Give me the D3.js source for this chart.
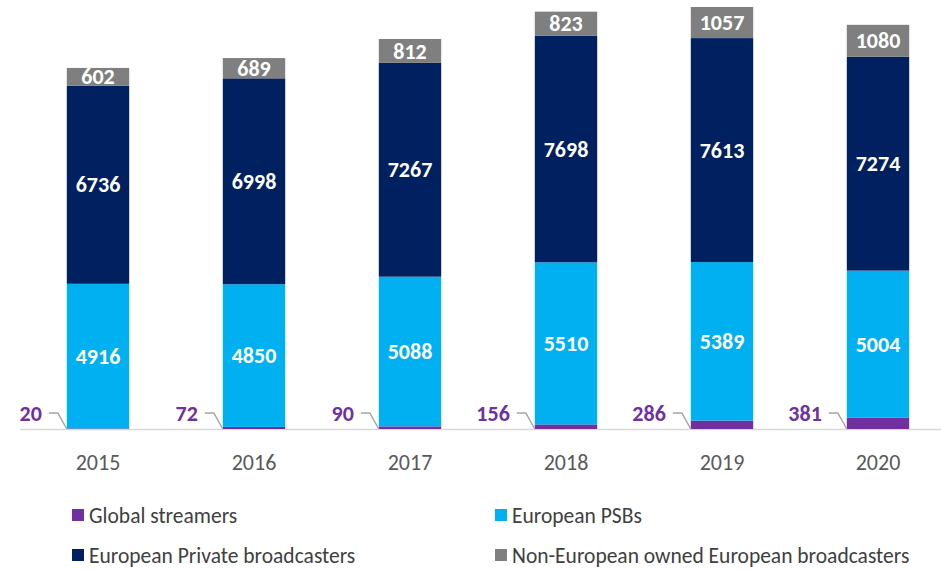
<!DOCTYPE html>
<html>
<head>
<meta charset="utf-8">
<script src="https://cdn.jsdelivr.net/npm/d3@7"></script>
<style>
  body { margin:0; background:#fff; }
  text { font-family: Carlito, Lato, "Open Sans", sans-serif; }
</style>
</head>
<body>
<script>
var years = ["2015","2016","2017","2018","2019","2020"];
var streamers = [20,72,90,156,286,381];
var psbs = [4916,4850,5088,5510,5389,5004];
var privates = [6736,6998,7267,7698,7613,7274];
var nonEU = [602,689,812,823,1057,1080];
var seriesNames = ["Global streamers","European PSBs","European Private broadcasters","Non-European owned European broadcasters"];
var colors = ["#7030A0","#00B0F0","#002060","#7F7F7F"];

var width = 941, height = 570;
var svg = d3.select("body").append("svg").attr("width",width).attr("height",height);

var rows = years.map(function(y,i){
  return {year:y, s0:streamers[i], s1:psbs[i], s2:privates[i], s3:nonEU[i]};
});
var stack = d3.stack().keys(["s0","s1","s2","s3"]);
var layers = stack(rows);

var xScale = d3.scaleBand().domain(years).range([20,956]).paddingInner(0.6).paddingOuter(0.3);
var yScale = d3.scaleLinear().domain([0,14345]).range([429,7]);

// axis line
svg.append("line").attr("x1",20).attr("x2",941).attr("y1",yScale(0)+0.5).attr("y2",yScale(0)+0.5)
  .attr("stroke","#d9d9d9").attr("stroke-width",1.5);

svg.selectAll("g.layer").data(layers).enter().append("g")
  .attr("class","layer")
  .attr("fill",function(d,i){return colors[i];})
  .selectAll("rect").data(function(d){return d;}).enter().append("rect")
  .attr("x",function(d){return xScale(d.data.year);})
  .attr("width",xScale.bandwidth())
  .attr("y",function(d){return yScale(d[1]);})
  .attr("height",function(d){return yScale(d[0])-yScale(d[1]);});

// labels inside bars (not for streamers)
layers.forEach(function(layer,li){
  if (li===0) return;
  svg.append("g").selectAll("text").data(layer).enter().append("text")
    .attr("x",function(d){return xScale(d.data.year)+xScale.bandwidth()/2;})
    .attr("y",function(d){return (yScale(d[0])+yScale(d[1]))/2;})
    .attr("dy","0.35em")
    .attr("text-anchor","middle")
    .attr("fill","#fff")
    .attr("font-weight","bold")
    .attr("font-size",22)
    .text(function(d){return d[1]-d[0];});
});

// callouts for streamers
var callouts = svg.append("g");
rows.forEach(function(r){
  var bx = xScale(r.year);
  var by = yScale(0);
  callouts.append("path")
    .attr("d","M"+(bx-18)+","+(by-16)+"L"+(bx-9)+","+(by-16)+"L"+bx+","+by)
    .attr("fill","none").attr("stroke","#a6a6a6").attr("stroke-width",1.5);
  callouts.append("text")
    .attr("x",bx-25).attr("y",by-16).attr("dy","0.35em")
    .attr("text-anchor","end")
    .attr("fill",colors[0]).attr("font-weight","bold").attr("font-size",22)
    .text(r.s0);
});

// x labels
svg.append("g").selectAll("text").data(years).enter().append("text")
  .attr("x",function(d){return xScale(d)+xScale.bandwidth()/2;})
  .attr("y",462).attr("dy","0.35em")
  .attr("text-anchor","middle").attr("fill","#595959").attr("font-size",22)
  .text(function(d){return d;});

// legend
var legendPos = [[72,515],[495,515],[72,555],[495,555]];
seriesNames.forEach(function(name,i){
  var g = svg.append("g").attr("transform","translate("+legendPos[i][0]+","+legendPos[i][1]+")");
  g.append("rect").attr("x",0).attr("y",-6).attr("width",12).attr("height",12).attr("fill",colors[i]);
  g.append("text").attr("x",17).attr("y",0).attr("dy","0.35em")
    .attr("fill","#404040").attr("font-size",21.5).text(name);
});
</script>
</body>
</html>
